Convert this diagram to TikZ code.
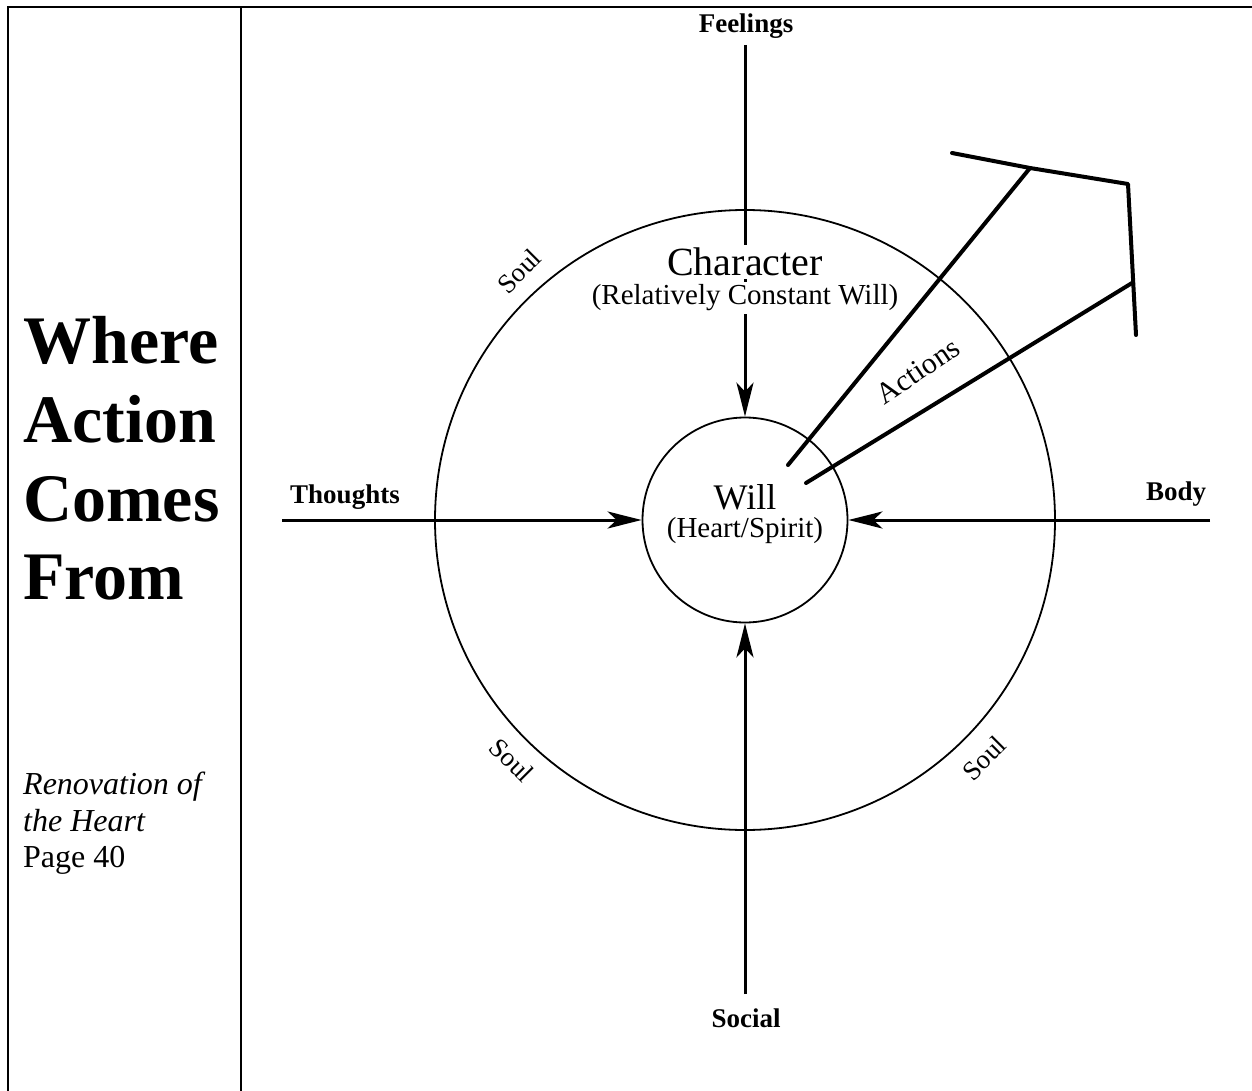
\documentclass[tikz,border=0pt]{standalone}
\usepackage{fontspec}
\setmainfont{Liberation Serif}
\usetikzlibrary{arrows.meta}
\begin{document}
\begin{tikzpicture}[x=1pt,y=-1pt,
  frame/.style={line width=2pt},
  ring/.style={draw,circle,line width=1.8pt,inner sep=0pt},
  axis/.style={line width=3pt,-{Stealth[length=34pt,width=17pt,inset=9pt]}},
  act/.style={line width=4pt,line cap=round,line join=round},
  lbl/.style={font=\fontsize{27}{30}\selectfont\bfseries,inner sep=0pt},
  soullbl/.style={font=\fontsize{27}{30}\selectfont,inner sep=0pt},
  title/.style={font=\fontsize{68}{78}\selectfont\bfseries,anchor=base west,inner sep=0pt},
  src/.style={font=\fontsize{32}{37}\selectfont,anchor=base west,inner sep=0pt}]
\useasboundingbox (0,0) rectangle (1252,1091);
\fill[white] (0,0) rectangle (1252,1091);
% table frame
\coordinate (tl) at (8,7);
\coordinate (tr) at (1252,7);
\coordinate (bl) at (8,1091);
\coordinate (dt) at (241,7);
\coordinate (db) at (241,1091);
\draw[frame] (tr) -- (tl) -- (bl);
\draw[frame] (dt) -- (db);
% left panel text
\node[title] (t1) at (23,363) {Where};
\node[title] (t2) at (23,442) {Action};
\node[title] (t3) at (23,521) {Comes};
\node[title] (t4) at (23,599) {From};
\node[src] (s1) at (23,794) {\itshape Renovation of};
\node[src] (s2) at (23,831) {\itshape the Heart};
\node[src] (s3) at (23,867) {Page 40};
% circles
\node[ring,minimum size=620pt] (soul) at (745,520) {};
\node[ring,minimum size=205pt] (will) at (745,520) {};
% outer labels
\node[lbl] (feel) at (746,26) {Feelings};
\node[lbl] (thou) at (345,497) {Thoughts};
\node[lbl] (body) at (1176,494) {Body};
\node[lbl] (soc) at (746,1018) {Social};
\coordinate (fs) at (745,45);
\coordinate (ts) at (282,520);
\coordinate (bs) at (1210,520);
\coordinate (ss) at (745,994);
\draw[axis] (fs) -- (will.north);
\draw[axis] (ts) -- (will.west);
\draw[axis] (bs) -- (will.east);
\draw[axis] (ss) -- (will.south);
% inner texts
\node[font=\fontsize{36}{40}\selectfont,inner sep=0pt] (willt) at (745,497) {Will};
\node[font=\fontsize{29}{32}\selectfont,inner sep=0pt] (willsub) at (745,531) {(Heart/Spirit)};
\node[font=\fontsize{40}{44}\selectfont,inner sep=3pt,fill=white] (char) at (745,262) {Character};
\node[font=\fontsize{29}{32}\selectfont,inner sep=3pt,fill=white] (charsub) at (745,298) {(Relatively Constant Will)};
% soul labels
\node[soullbl,rotate=45] (soul1) at (519,271) {Soul};
\node[soullbl,rotate=-45] (soul2) at (512,760) {Soul};
\node[soullbl,rotate=45] (soul3) at (984,758) {Soul};
% actions
\coordinate (a1s) at (788,465);
\coordinate (a1e) at (1030,168);
\coordinate (a2s) at (806,483);
\coordinate (a2e) at (1132,283);
\coordinate (p1) at (952,153);
\coordinate (p2) at (1128,184);
\coordinate (p3) at (1136,335);
\draw[act] (a1s) -- (a1e);
\draw[act] (a2s) -- (a2e);
\draw[act] (p1) -- (a1e) -- (p2) -- (p3);
\node[font=\fontsize{30}{33}\selectfont,inner sep=0pt,rotate=34] (actions) at (918,371) {Actions};
\end{tikzpicture}
\end{document}
